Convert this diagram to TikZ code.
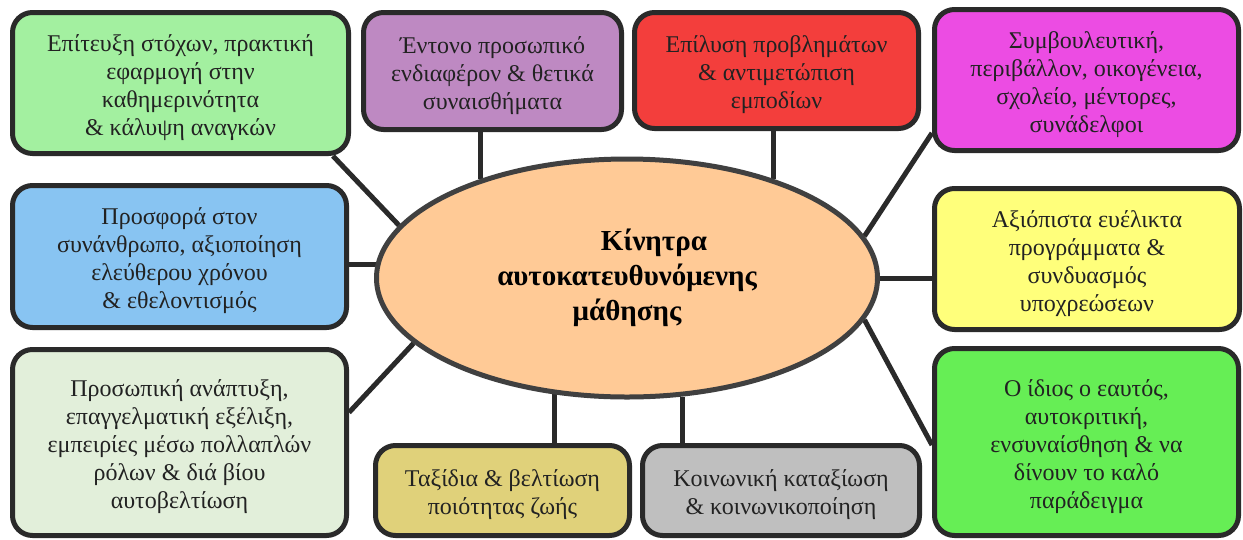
\documentclass[tikz,border=0pt]{standalone}
\usepackage{fontspec}
\setmainfont{Liberation Serif}[Script=Greek]
\usetikzlibrary{shapes.geometric,calc}
\pgfdeclarelayer{back}
\pgfdeclarelayer{links}
\pgfsetlayers{back,links,main}
\definecolor{bordc}{HTML}{2A2A2A}
\definecolor{ellc}{HTML}{404040}
\definecolor{txtc}{HTML}{222222}
\definecolor{peach}{HTML}{FFCA96}
\definecolor{cgone}{HTML}{A3F0A0}
\definecolor{cpurple}{HTML}{BE89C2}
\definecolor{cred}{HTML}{F33E3C}
\definecolor{cmag}{HTML}{EC4CE3}
\definecolor{cblue}{HTML}{88C4F2}
\definecolor{cyellow}{HTML}{FFFF7B}
\definecolor{cpale}{HTML}{E2EFDA}
\definecolor{ckhaki}{HTML}{E0D17A}
\definecolor{cgrey}{HTML}{BFBFBF}
\definecolor{cbright}{HTML}{66EE55}
\newcommand{\boxtxt}[1]{\raisebox{-4.5pt}[\height][\depth]{\begin{tabular}{@{}c@{}}#1\end{tabular}}}
\begin{document}
\begin{tikzpicture}[x=1pt,y=-1pt,
  box/.style={draw=bordc, line width=5pt, rounded corners=20pt, inner sep=0pt,
    text=txtc, font=\fontsize{24}{28}\selectfont},
  link/.style={draw=bordc, line width=5pt}]
\begin{pgfonlayer}{back}
\path[use as bounding box, fill=white] (0,0) rectangle (1243,539);
\end{pgfonlayer}
% central ellipse
\node[ellipse, draw=ellc, fill=peach, line width=5pt, minimum width=501pt,
  minimum height=238pt, inner sep=0pt, align=center, text=black,
  font=\bfseries\fontsize{29}{35}\selectfont] (e) at (627,278)
  {\hspace*{54pt}Κίνητρα\\αυτοκατευθυνόμενης\\μάθησης};
% boxes
\node[box, fill=cgone, minimum width=336pt, minimum height=141pt] (g1) at (180.5,83)
  {\boxtxt{Επίτευξη στόχων, πρακτική\\εφαρμογή στην\\καθημερινότητα\\\& κάλυψη αναγκών}};
\node[box, fill=cpurple, minimum width=258pt, minimum height=117pt] (pu) at (492.5,71)
  {\boxtxt{Έντονο προσωπικό\\ενδιαφέρον \& θετικά\\συναισθήματα}};
\node[box, fill=cred, minimum width=284pt, minimum height=116pt] (rd) at (776.5,70.5)
  {\boxtxt{Επίλυση προβλημάτων\\\& αντιμετώπιση\\εμποδίων}};
\node[box, fill=cmag, minimum width=304pt, minimum height=141pt] (mg) at (1086.5,80)
  {\boxtxt{Συμβουλευτική,\\περιβάλλον, οικογένεια,\\σχολείο, μέντορες,\\συνάδελφοι}};
\node[box, fill=cblue, minimum width=334pt, minimum height=142pt] (bl) at (179.5,256.5)
  {\boxtxt{Προσφορά στον\\συνάνθρωπο, αξιοποίηση\\ελεύθερου χρόνου\\\& εθελοντισμός}};
\node[box, fill=cyellow, minimum width=305pt, minimum height=141pt] (ye) at (1087,259)
  {\boxtxt{Αξιόπιστα ευέλικτα\\προγράμματα \&\\συνδυασμός\\υποχρεώσεων}};
\node[box, fill=cpale, minimum width=334pt, minimum height=186pt] (pa) at (179.5,442.5)
  {\boxtxt{Προσωπική ανάπτυξη,\\επαγγελματική εξέλιξη,\\εμπειρίες μέσω πολλαπλών\\ρόλων \& διά βίου\\αυτοβελτίωση}};
\node[box, fill=ckhaki, minimum width=254pt, minimum height=90pt] (kh) at (502.5,490.5)
  {\boxtxt{Ταξίδια \& βελτίωση\\ποιότητας ζωής}};
\node[box, fill=cgrey, minimum width=277pt, minimum height=90pt] (gr) at (781,490.5)
  {\boxtxt{Κοινωνική καταξίωση\\\& κοινωνικοποίηση}};
\node[box, fill=cbright, minimum width=304pt, minimum height=187pt] (gb) at (1086.5,442)
  {\boxtxt{Ο ίδιος ο εαυτός,\\αυτοκριτική,\\ενσυναίσθηση \& να\\δίνουν το καλό\\παράδειγμα}};
% connectors
\begin{pgfonlayer}{links}
\draw[link] (e.146.2) -- (e.146.2 |- pu.south);
\draw[link] (e.34.9) -- (e.34.9 |- rd.south);
\draw[link] (e.238.5) -- (e.238.5 |- kh.north);
\draw[link] (e.295.8) -- (e.295.8 |- gr.north);
\draw[link] (e.177.4) -- (e.177.4 -| bl.east);
\draw[link] (e.east) -- (e.east -| ye.west);
\draw[link] (e.167.6) -- ($(g1.south east)+(-18,0)$);
\draw[link] (e.197.3) -- ($(pa.east)+(0,-30)$);
\draw[link] (e.10.6) -- ($(mg.west)+(0,53)$);
\draw[link] (e.-10.3) -- ($(gb.west)+(0,3)$);
\end{pgfonlayer}
\end{tikzpicture}
\end{document}
